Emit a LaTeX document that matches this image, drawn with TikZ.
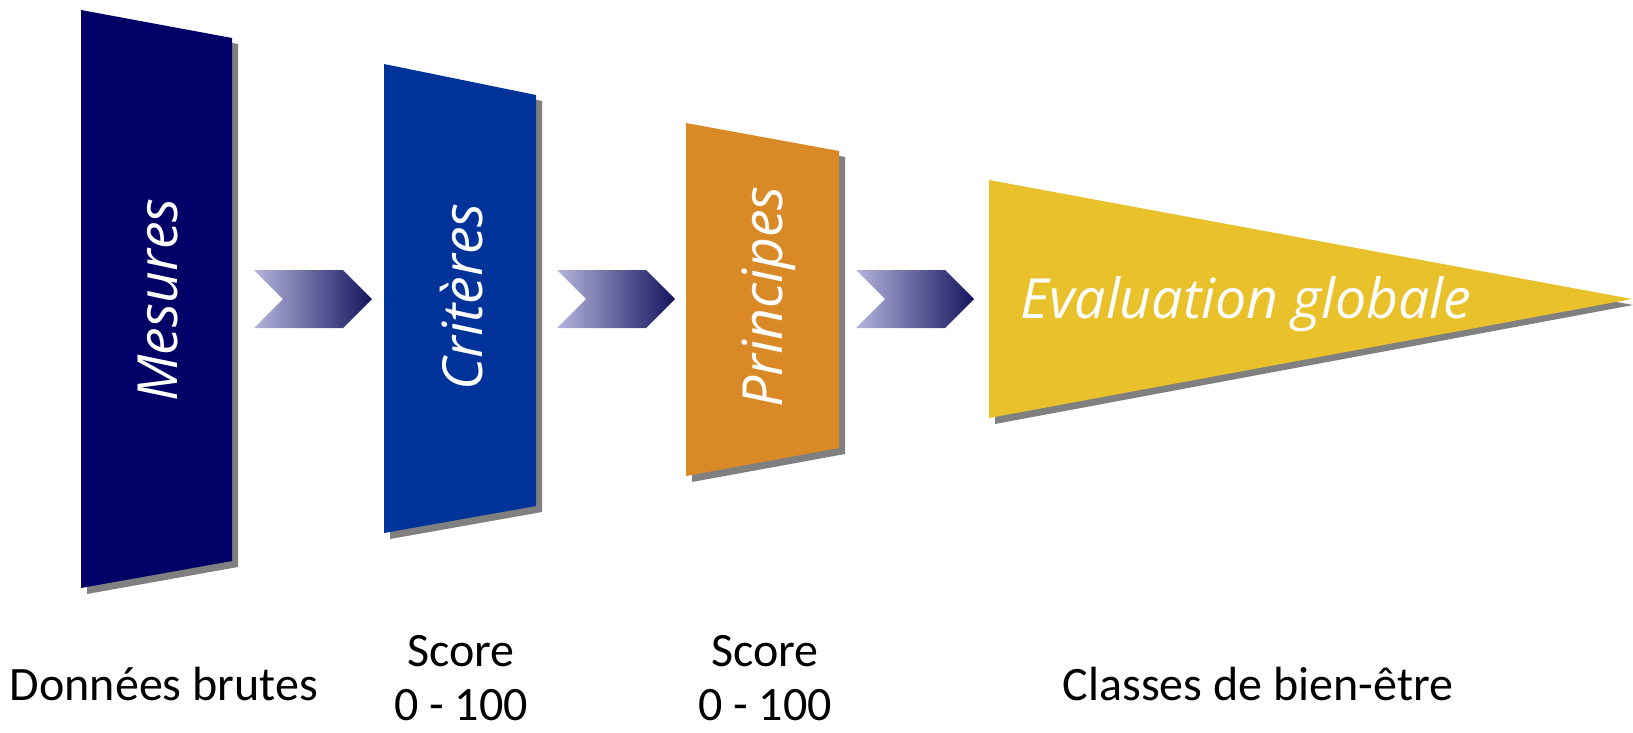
\documentclass[tikz,border=0pt]{standalone}
\usepackage{fontspec}
\setmainfont{Carlito}
\newfontfamily\handfont{Open Sans}
\usetikzlibrary{positioning}
\definecolor{navy}{HTML}{000066}
\definecolor{royal}{HTML}{003399}
\definecolor{ochre}{HTML}{D98A27}
\definecolor{mustard}{HTML}{E9C12A}
\definecolor{shade}{HTML}{808080}
\definecolor{chevlight}{HTML}{B4B4DC}
\definecolor{chevdark}{HTML}{15155F}

\begin{document}
\begin{tikzpicture}[x=0.75pt, y=-0.75pt,
    drop/.style={fill=shade, shift={(6,6)}},
    title/.style={font=\handfont\itshape\fontsize{41.5}{50}\selectfont, text=white},
    caption/.style={font=\fontsize{36}{40}\selectfont, align=center, text=black, inner sep=0pt}]
  \useasboundingbox (0,0) rectangle (1633,732);
  % ---- shadows first, then the four panels ----
  \fill[drop] (81,10) -- (232,38) -- (232,561) -- (81,588) -- cycle;
  \fill[drop] (384,64) -- (536,95) -- (536,506) -- (384,533) -- cycle;
  \fill[drop] (686,123) -- (839,151) -- (839,448) -- (686,476) -- cycle;
  \fill[drop] (989,180) -- (1627,299) -- (989,418) -- cycle;
  \fill[navy]    (81,10) -- (232,38) -- (232,561) -- (81,588) -- cycle;
  \fill[royal]   (384,64) -- (536,95) -- (536,506) -- (384,533) -- cycle;
  \fill[ochre]   (686,123) -- (839,151) -- (839,448) -- (686,476) -- cycle;
  \fill[mustard] (989,180) -- (1632,299) -- (989,418) -- cycle;
  % ---- panel titles ----
  \node[title, rotate=90, anchor=base] (mesures) at (177,300) {Mesures};
  \node[title, rotate=90, anchor=base] (criteres) at (482,297) {Critères};
  \node[title, rotate=90, anchor=base] (principes) at (782,297) {Principes};
  \node[title, anchor=base west] (evaluation) at (1016,318) {Evaluation globale};
  % ---- chevrons between panels ----
  \foreach \x in {254, 557, 856}
    \shade[left color=chevlight, right color=chevdark]
      (\x,270) -- ++(89,0) -- ++(29,29) -- ++(-29,29) -- ++(-89,0) -- ++(29,-29) -- cycle;
  % ---- captions under the panels ----
  \node[caption, anchor=base] (brutes) at (164,700) {Données brutes};
  \node[caption, anchor=base] (scoreA) at (461,720) {Score\\0 - 100};
  \node[caption, anchor=base] (scoreB) at (765,720) {Score\\0 - 100};
  \node[caption, anchor=base] (classes) at (1258,700) {Classes de bien-être};
\end{tikzpicture}
\end{document}
